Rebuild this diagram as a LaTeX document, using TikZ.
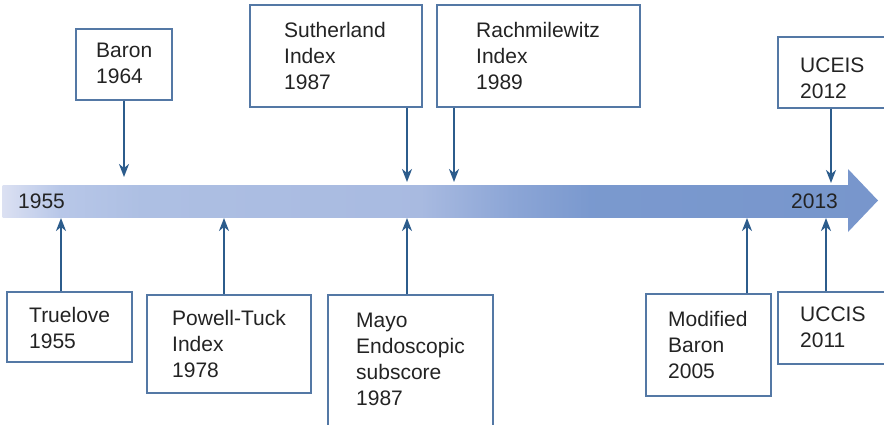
\documentclass[tikz,border=0pt]{standalone}
\usepackage{fontspec}
\setmainfont{Liberation Sans}
\usepackage{xcolor}
\usepackage{tikz}
\usetikzlibrary{arrows.meta}

\definecolor{linkblue}{RGB}{44,92,140}
\definecolor{boxblue}{RGB}{84,120,165}
\definecolor{txtgray}{RGB}{35,35,35}
% stops of the time axis, light to dark
\definecolor{ax0}{rgb}{0.86,0.88,0.95}
\definecolor{ax1}{rgb}{0.72,0.78,0.91}
\definecolor{ax2}{rgb}{0.68,0.75,0.89}
\definecolor{ax3}{rgb}{0.66,0.73,0.88}
\definecolor{ax4}{rgb}{0.55,0.65,0.84}
\definecolor{ax5}{rgb}{0.48,0.60,0.81}
\definecolor{ax6}{rgb}{0.47,0.59,0.80}

\tikzset{
  box/.style={draw=boxblue, line width=1.3pt, inner sep=0pt},
  lbl/.style={anchor=north west, inner sep=0pt, align=left, text=txtgray,
    font=\fontsize{21}{26}\selectfont},
  link/.style={-{Stealth[length=13pt,width=10pt,inset=4pt]}, draw=linkblue, line width=2pt},
}

\begin{document}
\begin{tikzpicture}[x=1pt, y=-1pt]
  \useasboundingbox (0,0) rectangle (884,424);
  \clip (0,0) rectangle (884,424);

  % time axis, shaded piece by piece
  \foreach \xa/\xb/\ca/\cb in {3/60/ax0/ax1, 60/140/ax1/ax2, 140/420/ax2/ax3,
      420/510/ax3/ax4, 510/590/ax4/ax5, 590/849/ax5/ax6}
    \shade[left color=\ca, right color=\cb] (\xa-0.5,185) rectangle (\xb+0.5,217);
  \fill[ax6] (848,169) -- (878,200.5) -- (848,232) -- cycle;
  \node[lbl, anchor=west] (Y0) at (18,201) {1955};
  \node[lbl, anchor=west] (Y1) at (791,201) {2013};

  % indices above the axis
  \node[box, minimum width=96pt, minimum height=71pt] (Baron) at (124,64.5) {};
  \node[box, minimum width=172pt, minimum height=102pt] (Suth) at (336,56) {};
  \node[box, minimum width=203pt, minimum height=102pt] (Rach) at (538.5,56) {};
  \node[box, minimum width=112pt, minimum height=71pt] (UCEIS) at (834,72.5) {};

  \node[lbl] (BaronT) at (96,43) {Baron\\1964};
  \node[lbl] (SuthT) at (284,22) {Sutherland\\Index\\1987};
  \node[lbl] (RachT) at (476,22) {Rachmilewitz\\Index\\1989};
  \node[lbl] (UCEIST) at (800,58) {UCEIS\\2012};

  % indices below the axis
  \node[box, minimum width=125pt, minimum height=70pt] (True) at (69.5,327) {};
  \node[box, minimum width=164pt, minimum height=98pt] (Powell) at (229,344) {};
  \node[box, minimum width=165pt, minimum height=135pt] (Mayo) at (410.5,362.5) {};
  \node[box, minimum width=125pt, minimum height=102pt] (ModB) at (708.5,345) {};
  \node[box, minimum width=112pt, minimum height=72pt] (UCCIS) at (834,328) {};

  \node[lbl] (TrueT) at (29,307) {Truelove\\1955};
  \node[lbl] (PowellT) at (172,310) {Powell-Tuck\\Index\\1978};
  \node[lbl] (MayoT) at (356,313) {Mayo\\Endoscopic\\subscore\\1987};
  \node[lbl] (ModBT) at (668,311) {Modified\\Baron\\2005};
  \node[lbl] (UCCIST) at (800,307) {UCCIS\\2011};

  % where each index meets the axis
  \coordinate (tBaron) at (124,177);
  \coordinate (tSuth) at (407,182);
  \coordinate (tRach) at (454,182);
  \coordinate (tUCEIS) at (831,183);
  \coordinate (tTrue) at (61,218);
  \coordinate (tPowell) at (224,218);
  \coordinate (tMayo) at (407,218);
  \coordinate (tModB) at (747,218);
  \coordinate (tUCCIS) at (826,218);

  \draw[link] (tBaron |- Baron.south) -- (tBaron);
  \draw[link] (tSuth |- Suth.south) -- (tSuth);
  \draw[link] (tRach |- Rach.south) -- (tRach);
  \draw[link] (tUCEIS |- UCEIS.south) -- (tUCEIS);
  \draw[link] (tTrue |- True.north) -- (tTrue);
  \draw[link] (tPowell |- Powell.north) -- (tPowell);
  \draw[link] (tMayo |- Mayo.north) -- (tMayo);
  \draw[link] (tModB |- ModB.north) -- (tModB);
  \draw[link] (tUCCIS |- UCCIS.north) -- (tUCCIS);
\end{tikzpicture}
\end{document}
